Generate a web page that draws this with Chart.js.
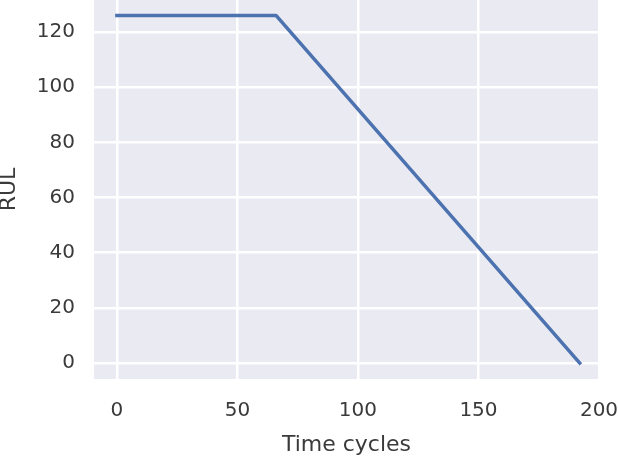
<!DOCTYPE html>
<html>
<head>
<meta charset="utf-8">
<script src="https://cdn.jsdelivr.net/npm/chart.js@4"></script>
<style>
  html, body { margin: 0; padding: 0; background: #ffffff; }
  #wrap { width: 618px; height: 460px; }
</style>
</head>
<body>
<div id="wrap"><canvas id="c" width="618" height="460"></canvas></div>
<script>
// Data
const cycles = [0, 66, 192];        // Time cycles (breakpoints of the line)
const rul = [126, 126, 0];          // RUL values at those cycles
const xTickValues = [0, 50, 100, 150, 200];
const yTickValues = [0, 20, 40, 60, 80, 100, 120];
const xTitle = 'Time cycles';
const yTitle = 'RUL';

const points = cycles.map((c, i) => ({ x: c, y: rul[i] }));

const bgPlugin = {
  id: 'plotBg',
  beforeDraw(chart) {
    const { ctx, chartArea: a } = chart;
    ctx.save();
    ctx.fillStyle = '#EAEAF2';
    ctx.fillRect(a.left, a.top, a.right - a.left, a.bottom - a.top);
    ctx.restore();
  }
};

const FONT = 'DejaVu Sans';
const TXT = '#3a3a3a';

function zeroPad(s) {
  s.paddingTop = 0; s.paddingBottom = 0; s.paddingLeft = 0; s.paddingRight = 0;
}

new Chart(document.getElementById('c'), {
  type: 'line',
  data: {
    datasets: [{
      data: points,
      borderColor: '#4C72B0',
      borderWidth: 3.5,
      borderCapStyle: 'square',
      borderJoinStyle: 'round',
      pointRadius: 0,
      tension: 0,
      fill: false
    }]
  },
  options: {
    responsive: false,
    animation: false,
    devicePixelRatio: 1,
    layout: { padding: { top: 0, right: 19, bottom: 0, left: 0 } },
    plugins: { legend: { display: false }, tooltip: { enabled: false } },
    scales: {
      x: {
        type: 'linear',
        min: -9.5,
        max: 200,
        afterBuildTicks(s) { s.ticks = xTickValues.map(v => ({ value: v })); },
        afterFit(s) { s.height = 81; zeroPad(s); },
        grid: { color: '#ffffff', lineWidth: 2.5, drawTicks: false },
        border: { display: false },
        ticks: { padding: 20, color: TXT, font: { family: FONT, size: 20 }, maxRotation: 0 },
        title: { display: true, text: xTitle, color: TXT, font: { family: FONT, size: 22 }, padding: { top: 0, bottom: 2 } }
      },
      y: {
        type: 'linear',
        min: -5.8,
        max: 131.6,
        afterBuildTicks(s) { s.ticks = yTickValues.map(v => ({ value: v })); },
        afterFit(s) { s.width = 94; zeroPad(s); },
        grid: { color: '#ffffff', lineWidth: 2.5, drawTicks: false },
        border: { display: false },
        ticks: { padding: 19, color: TXT, font: { family: FONT, size: 20 } },
        title: { display: true, text: yTitle, color: TXT, font: { family: FONT, size: 22, lineHeight: 0.8 }, padding: 0 }
      }
    }
  },
  plugins: [bgPlugin]
});
</script>
</body>
</html>
